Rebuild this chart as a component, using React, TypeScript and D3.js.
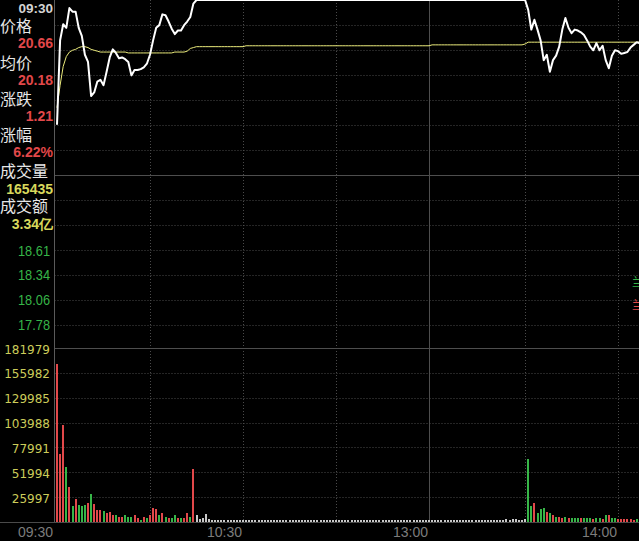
import React from 'react';
import * as d3 from 'd3';

// ---------- data ----------
const prevClose = 19.45;
const limitDown = 17.5;
const limitUp = 21.4;
const volMax = 181979;

// minute index: 0 = 09:30 ... 120 = 11:30, 121 = 13:00 ... (visible through ~14:07)
const price = [
  20.01, 20.95, 21.13, 21.09, 21.31, 21.27, 21.27, 21.09, 21.0, 20.79,
  20.71, 20.33, 20.37, 20.49, 20.51, 20.45, 20.6, 20.76, 20.85, 20.81,
  20.75, 20.76, 20.74, 20.71, 20.56, 20.62, 20.62, 20.63, 20.65, 20.69,
  20.79, 20.95, 21.09, 21.12, 21.24, 21.23, 21.16, 21.08, 21.02, 21.06,
  21.06, 21.12, 21.16, 21.21, 21.36,
  21.4, 21.4, 21.4, 21.4, 21.4, 21.4, 21.4, 21.4, 21.4, 21.4,
  21.4, 21.4, 21.4, 21.4, 21.4, 21.4, 21.4, 21.4, 21.4, 21.4,
  21.4, 21.4, 21.4, 21.4, 21.4, 21.4, 21.4, 21.4, 21.4, 21.4,
  21.4, 21.4, 21.4, 21.4, 21.4, 21.4, 21.4, 21.4, 21.4, 21.4,
  21.4, 21.4, 21.4, 21.4, 21.4, 21.4, 21.4, 21.4, 21.4, 21.4,
  21.4, 21.4, 21.4, 21.4, 21.4, 21.4, 21.4, 21.4, 21.4, 21.4,
  21.4, 21.4, 21.4, 21.4, 21.4, 21.4, 21.4, 21.4, 21.4, 21.4,
  21.4, 21.4, 21.4, 21.4, 21.4, 21.4, 21.4, 21.4, 21.4, 21.4,
  21.4, 21.4, 21.4, 21.4, 21.4, 21.4, 21.4, 21.4, 21.4, 21.4,
  21.4, 21.4, 21.4, 21.4, 21.4, 21.4, 21.4, 21.4, 21.4, 21.4,
  21.4, 21.4, 21.4, 21.4, 21.4, 21.4, 21.4,
  21.29, 21.07, 21.18, 21.07, 20.95, 20.73, 20.79, 20.6, 20.73, 20.78,
  20.88, 21.07, 21.2, 21.09, 21.03, 21.07, 21.06, 21.04, 21.01, 20.95,
  20.88, 20.84, 20.92, 20.84, 20.89, 20.73, 20.64, 20.78, 20.84, 20.83,
  20.8, 20.81, 20.82, 20.87, 20.9, 20.93, 20.92,
];

const avgPrice = [
  20.2, 20.45, 20.66, 20.77, 20.82, 20.84, 20.85, 20.87, 20.88, 20.88,
  20.87, 20.85, 20.84, 20.83, 20.82, 20.82,
  20.82, 20.82, 20.82, 20.82, 20.82, 20.82, 20.82,
  20.81, 20.81, 20.81, 20.81, 20.81, 20.81, 20.81, 20.81, 20.81, 20.81,
  20.81, 20.81, 20.81, 20.81, 20.81,
  20.82, 20.82, 20.82,
  20.82, 20.83, 20.86, 20.87, 20.88,
  20.88, 20.88, 20.88, 20.88, 20.88, 20.88, 20.88, 20.88, 20.88, 20.88,
  20.88, 20.88, 20.88, 20.88, 20.88,
  20.89, 20.89, 20.89, 20.89, 20.89, 20.89, 20.89, 20.89, 20.89, 20.89,
  20.89, 20.89, 20.89, 20.89, 20.89, 20.89, 20.89, 20.89, 20.89, 20.89,
  20.89, 20.89, 20.89, 20.89, 20.89, 20.89, 20.89, 20.89, 20.89, 20.89,
  20.89, 20.89, 20.89, 20.89, 20.89, 20.89, 20.89, 20.89, 20.89, 20.89,
  20.89, 20.89, 20.89, 20.89, 20.89, 20.89, 20.89, 20.89, 20.89, 20.89,
  20.89, 20.89, 20.89, 20.89, 20.89, 20.89, 20.89, 20.89, 20.89, 20.89,
  20.9, 20.9, 20.9, 20.9, 20.9, 20.9, 20.9, 20.9, 20.9, 20.9,
  20.9, 20.9, 20.9, 20.9, 20.9, 20.9, 20.9, 20.9, 20.9, 20.9,
  20.9, 20.9, 20.9, 20.9, 20.9, 20.9, 20.9, 20.9, 20.9, 20.9,
  20.91, 20.93,
  20.93, 20.93, 20.93, 20.93, 20.93, 20.93, 20.93, 20.93, 20.93, 20.93,
  20.93, 20.93, 20.93, 20.93, 20.93, 20.93, 20.93, 20.93, 20.93, 20.93,
  20.93, 20.93, 20.93, 20.93, 20.93, 20.93, 20.93, 20.93, 20.93, 20.93,
  20.93, 20.93, 20.93, 20.93, 20.93, 20.93,
];

const volume = [
  165435, 71000, 101200, 57400, 36500, 17200, 24500, 18300, 17200, 18300,
  20300, 29700, 19300, 13000, 12300, 12000, 8900, 10900, 7800, 7800,
  5700, 5700, 6800, 5700, 5700, 6800, 4700, 2600, 5700, 4700,
  7800, 15100, 14100, 6800, 8900, 5500, 4500, 4500, 6800, 4500,
  4500, 3800, 8900, 5500, 55600, 7000, 2800, 3800, 8000, 2800,
  1800, 1800, 1800, 1800, 1800, 1800, 1800, 1800, 1800, 1800,
  1800, 1800, 1800, 1800, 1800, 1800, 1800, 1800, 1800, 1800,
  1800, 1800, 1800, 1800, 1800, 1800, 1800, 1800, 1800, 1800,
  1800, 1800, 1800, 1800, 1800, 1800, 1800, 1800, 1800, 1800,
  1800, 1800, 1800, 1800, 1800, 1800, 1800, 1800, 1800, 1800,
  1800, 1800, 1800, 1800, 1800, 1800, 1800, 1800, 1800, 1800,
  1800, 1800, 1800, 1800, 1800, 1800, 1800, 1800, 1800, 1800,
  1800, 1800, 1800, 1800, 1800, 1800, 1800, 1800, 1800, 1800,
  1800, 1800, 1800, 1800, 1800, 1800, 1800, 1800, 1800, 1800,
  1800, 1800, 1800,
  1800, 1800, 2800, 1800, 2800, 2800, 1800, 1800, 2800,
  65400, 16700, 19500, 9000, 13200, 14300, 10400, 9000, 7000, 5600,
  5600, 4500, 5600, 4200, 4500, 3800, 3800, 4500, 3800, 4500,
  4500, 2800, 3800, 3800, 2800, 7000, 7000, 3800, 3800, 2800,
  2800, 2800, 2800, 2800, 1800, 2800, 2800,
];

// r = up (red), g = down (green), n = flat (grey)
const directionAM = 'rrrgr' + 'grggg' + 'rgrrr' + 'grrrg' + 'rrggg' + 'rrgrg' + 'rrrgr' + 'grggr' + 'grrgr';
const directionFlat = 'n'.repeat(107);
const directionPM = 'ggrgg' + 'grgrg' + 'rrgrg' + 'ggrgg' + 'grggr' + 'grggr' + 'rrrrr' + 'gg';
const direction = (directionAM + directionFlat + directionPM).split('');

const priceTicks = [18.61, 18.34, 18.06, 17.78];
const volumeTicks = [181979, 155982, 129985, 103988, 77991, 51994, 25997];
const timeTickIndex = [0, 60, 120, 181];
const timeTickLabels = ['09:30', '10:30', '13:00', '14:00'];
const dottedTimeIndex = [30, 60, 90, 151, 181];
const middayIndex = 120;

const infoTime = '09:30';
const infoLabels = ['价格', '均价', '涨跌', '涨幅', '成交量', '成交额'];
const infoValues = ['20.66', '20.18', '1.21', '6.22%', '165435', '3.34亿'];
const infoValueKinds = ['red', 'red', 'red', 'red', 'yellow', 'yellow'];

// ---------- styling ----------
const W = 639;
const H = 541;
const LEFT = 54.5;
const RED = '#e2484a';
const GREEN = '#37b548';
const GREY_BAR = '#c8c8c8';
const GRID = '#4a4a4a';
const SOLID = '#4e4e4e';
const NUM_FONT = '"Liberation Sans", Arial, sans-serif';
const CJK_FONT = '"Noto Sans CJK SC", "Noto Sans", sans-serif';

export default function App() {
  const x = d3.scaleLinear().domain([0, 241]).range([57, 57 + 241 * 3.1]);
  const py = d3.scaleLinear().domain([limitDown, limitUp]).range([350, 0]);
  const vy = d3.scaleLinear().domain([0, volMax]).range([522, 348]);
  const step = (limitUp - limitDown) / 14;
  const gridK = d3.range(-6, 7).filter((k) => k !== 0);

  const line = d3
    .line<number>()
    .x((_, i) => x(i))
    .y((d) => py(d))
    .curve(d3.curveLinear);

  const crisp = (v: number) => Math.round(v) + 0.5;

  const valueColor = (k: string) => (k === 'red' ? RED : '#d8d85c');
  const barColor = (d: string) => (d === 'r' ? RED : d === 'g' ? GREEN : GREY_BAR);

  const labelBase = [32, 69, 105, 141, 177, 212];
  const valueBase = [48, 85, 121, 157, 194, 229];

  return (
    <svg
      width={W}
      height={H}
      style={{ position: 'fixed', left: 0, top: 0, display: 'block', background: '#000' }}
    >
      <rect x={0} y={0} width={W} height={H} fill="#000" />

      {/* horizontal dotted grid - price */}
      {gridK.map((k) => (
        <line
          key={'pg' + k}
          x1={LEFT}
          x2={W}
          y1={crisp(py(prevClose + k * step))}
          y2={crisp(py(prevClose + k * step))}
          stroke={GRID}
          strokeDasharray="1 2"
        />
      ))}
      {/* horizontal dotted grid - volume */}
      {volumeTicks.slice(1).map((v) => (
        <line
          key={'vg' + v}
          x1={LEFT}
          x2={W}
          y1={crisp(vy(v))}
          y2={crisp(vy(v))}
          stroke={GRID}
          strokeDasharray="1 2"
        />
      ))}
      {/* vertical dotted grid */}
      {dottedTimeIndex.map((i) => (
        <line
          key={'tg' + i}
          x1={crisp(x(i))}
          x2={crisp(x(i))}
          y1={0}
          y2={522}
          stroke={GRID}
          strokeDasharray="1 2"
        />
      ))}
      {/* solid lines */}
      <line x1={LEFT} x2={W} y1={crisp(py(prevClose))} y2={crisp(py(prevClose))} stroke={SOLID} />
      <line x1={LEFT} x2={W} y1={crisp(vy(volMax))} y2={crisp(vy(volMax))} stroke={SOLID} />
      <line x1={crisp(x(middayIndex))} x2={crisp(x(middayIndex))} y1={0} y2={522} stroke={SOLID} />
      <line x1={LEFT} x2={LEFT} y1={0} y2={522} stroke="#5a5a5a" />
      <line x1={0} x2={W} y1={crisp(vy(0))} y2={crisp(vy(0))} stroke="#4a4a4a" />

      {/* volume bars */}
      <g shapeRendering="crispEdges">
        {volume.map((v, i) => (
          <rect
            key={'b' + i}
            x={Math.round(x(i)) - 1}
            width={2}
            y={Math.round(vy(v))}
            height={Math.max(1, Math.round(vy(0)) - Math.round(vy(v)))}
            fill={barColor(direction[i])}
          />
        ))}
      </g>

      {/* average price line */}
      <path d={line(avgPrice) || ''} fill="none" stroke="#ecec7c" strokeWidth={1} />
      {/* price line */}
      <path d={line(price) || ''} fill="none" stroke="#ffffff" strokeWidth={2} strokeLinejoin="round" />

      {/* left panel info */}
      <rect x={0} y={0} width={LEFT - 0.5} height={240} fill="#000" />
      <text x={53} y={12.5} textAnchor="end" fill="#d4d4d4" fontFamily={NUM_FONT} fontWeight="bold" fontSize={13.5}>
        {infoTime}
      </text>
      {infoLabels.map((t, i) => (
        <text key={'il' + i} x={0} y={labelBase[i]} fill="#e6e6e6" fontFamily={CJK_FONT} fontSize={16}>
          {t}
        </text>
      ))}
      {infoValues.map((t, i) => (
        <text
          key={'iv' + i}
          x={53}
          y={valueBase[i]}
          textAnchor="end"
          fill={valueColor(infoValueKinds[i])}
          fontFamily={NUM_FONT}
          fontWeight="bold"
          fontSize={14}
        >
          {t}
        </text>
      ))}

      {/* price axis labels */}
      {priceTicks.map((p) => (
        <text
          key={'pt' + p}
          x={50}
          y={py(p) + 5.5}
          textAnchor="end"
          fill={GREEN}
          fontFamily={NUM_FONT}
          fontSize={15}
          textLength={32}
          lengthAdjust="spacingAndGlyphs"
        >
          {p.toFixed(2)}
        </text>
      ))}

      {/* volume axis labels */}
      {volumeTicks.map((v) => (
        <text
          key={'vt' + v}
          x={50}
          y={vy(v) + 5.5}
          textAnchor="end"
          fill="#cccc5a"
          fontFamily='"DejaVu Sans", sans-serif'
          fontSize={12}
        >
          {v}
        </text>
      ))}

      {/* time labels */}
      {timeTickIndex.map((i, k) => (
        <text
          key={'tt' + i}
          x={i === 0 ? 53 : x(i) - 1}
          y={537}
          textAnchor="end"
          fill="#7c7c7c"
          fontFamily={NUM_FONT}
          fontSize={14}
        >
          {timeTickLabels[k]}
        </text>
      ))}

      {/* right edge markers */}
      <text x={632} y={287} fill={GREEN} fontFamily={CJK_FONT} fontSize={12}>兰</text>
      <text x={632} y={310} fill={RED} fontFamily={CJK_FONT} fontSize={12}>兰</text>
    </svg>
  );
}
